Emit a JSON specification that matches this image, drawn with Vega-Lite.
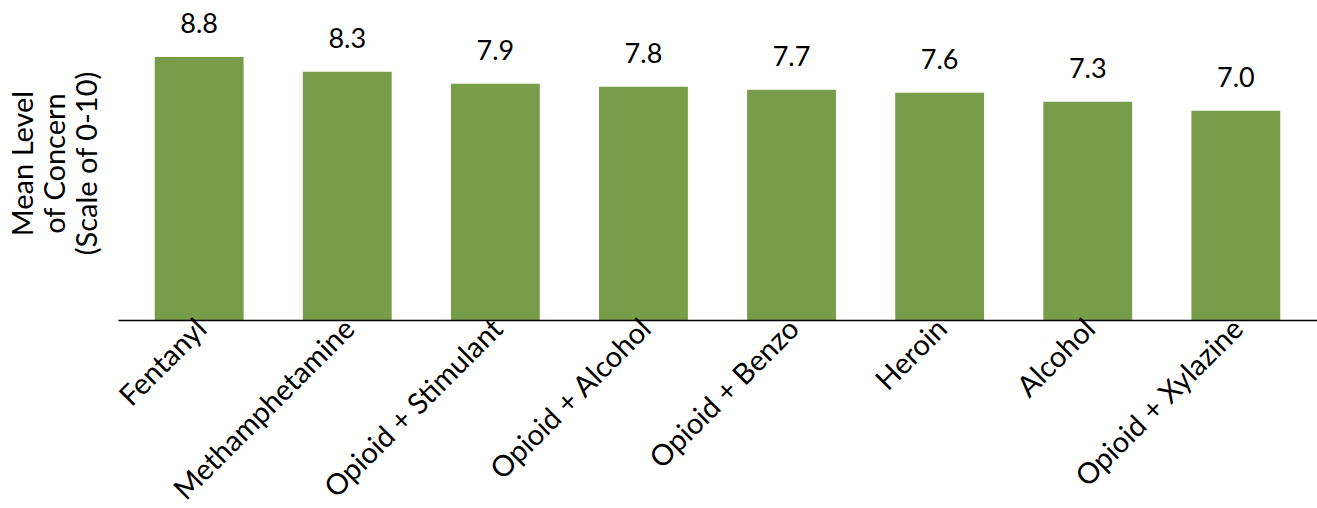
{
  "$schema": "https://vega.github.io/schema/vega-lite/v6.json",
  "width": 1199,
  "height": 299,
  "autosize": {"type": "none"},
  "padding": {"left": 118, "top": 21, "right": 0, "bottom": 188},
  "background": "white",
  "config": {
    "view": {"stroke": null},
    "font": "Lato"
  },
  "data": {
    "values": [
      {"substance": "Fentanyl", "mean": 8.8},
      {"substance": "Methamphetamine", "mean": 8.3},
      {"substance": "Opioid + Stimulant", "mean": 7.9},
      {"substance": "Opioid + Alcohol", "mean": 7.8},
      {"substance": "Opioid + Benzo", "mean": 7.7},
      {"substance": "Heroin", "mean": 7.6},
      {"substance": "Alcohol", "mean": 7.3},
      {"substance": "Opioid + Xylazine", "mean": 7.0}
    ]
  },
  "encoding": {
    "x": {
      "field": "substance",
      "type": "nominal",
      "sort": null,
      "scale": {"paddingInner": 0.4, "paddingOuter": 0.248},
      "axis": {
        "title": null,
        "zindex": 1,
        "labelAngle": -45,
        "labelAlign": "right",
        "labelBaseline": "middle",
        "labelFontSize": 29,
        "labelColor": "black",
        "labelPadding": 4,
        "labelOffset": 3,
        "labelLimit": 0,
        "labelOverlap": false,
        "ticks": false,
        "domainColor": "black",
        "domainWidth": 1.5,
        "labelFont": "Lato"
      }
    },
    "y": {
      "field": "mean",
      "type": "quantitative",
      "scale": {"domain": [0, 10], "nice": false},
      "axis": {
        "title": ["Mean Level", "of Concern", "(Scale of 0-10)"],
        "titleFontSize": 29,
        "titleFontWeight": "normal",
        "titleColor": "black",
        "titleFont": "Lato",
        "titleLineHeight": 32,
        "titleAngle": -90,
        "titleAlign": "center",
        "titleBaseline": "top",
        "titleX": -109,
        "titleY": 142,
        "labels": false,
        "ticks": false,
        "domain": false,
        "grid": false
      }
    }
  },
  "layer": [
    {"mark": {"type": "bar", "color": "#789D4A"}},
    {
      "mark": {"type": "text", "baseline": "alphabetic", "dy": -24, "fontSize": 27, "color": "black", "font": "Lato"},
      "encoding": {"text": {"field": "mean", "type": "quantitative", "format": ".1f"}}
    }
  ]
}
